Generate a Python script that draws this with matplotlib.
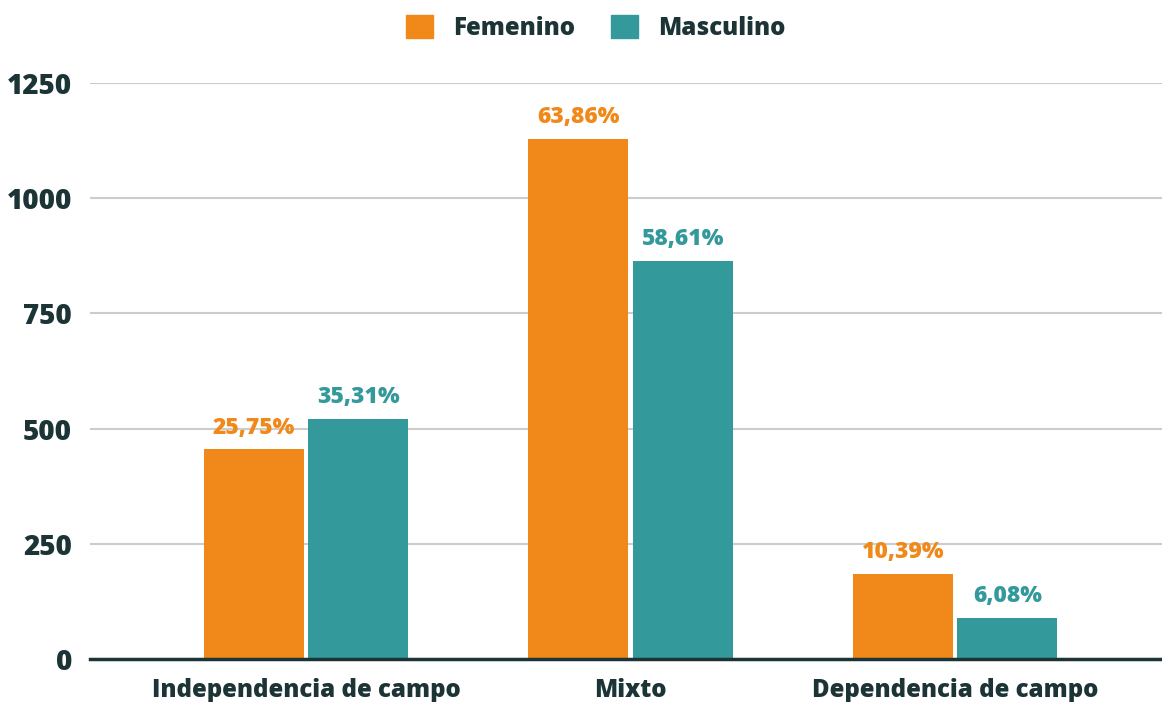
import matplotlib
matplotlib.use("Agg")
import matplotlib.pyplot as plt
import numpy as np
from matplotlib.patches import Patch

categories = ["Independencia de campo", "Mixto", "Dependencia de campo"]
femenino = [455, 1129, 184]
masculino = [521, 864, 90]
fem_labels = ["25,75%", "63,86%", "10,39%"]
masc_labels = ["35,31%", "58,61%", "6,08%"]
yticks = [0, 250, 500, 750, 1000, 1250]

ORANGE = "#F0891A"
TEAL = "#34999B"
DARK = "#1C3436"
GRID = "#CCCCCC"

plt.rcParams['font.family'] = ['Open Sans', 'DejaVu Sans']
W = 800

fig = plt.figure(figsize=(11.62, 7.02), dpi=100)
ax = fig.add_axes([90/1162, 1 - 659/702, 1072/1162, 576/702])

x = np.arange(len(categories))
w = 0.308
off = 0.161
b1 = ax.bar(x - off, femenino, w, color=ORANGE, zorder=3)
b2 = ax.bar(x + off, masculino, w, color=TEAL, zorder=3)

for rect, lab in zip(b1, fem_labels):
    ax.annotate(lab, (rect.get_x() + rect.get_width()/2, rect.get_height()),
                xytext=(0, 7), textcoords="offset points", ha="center", va="bottom",
                color=ORANGE, fontsize=16.5, fontweight=W)
for rect, lab in zip(b2, masc_labels):
    ax.annotate(lab, (rect.get_x() + rect.get_width()/2, rect.get_height()),
                xytext=(0, 7), textcoords="offset points", ha="center", va="bottom",
                color=TEAL, fontsize=16.5, fontweight=W)

ax.set_xlim(-0.666, 2.638)
ax.set_ylim(0, 1250)
ax.set_yticks(yticks)
ax.set_yticklabels([str(v) for v in yticks], fontsize=20, fontweight=W, color=DARK)
ax.set_xticks(x)
ax.set_xticklabels(categories, fontsize=17.3, fontweight=W, color=DARK)
ax.tick_params(axis="y", length=0, pad=13)
ax.tick_params(axis="x", length=0, pad=14)
ax.yaxis.grid(True, color=GRID, linewidth=1.5, zorder=0)
ax.set_axisbelow(True)
for s in ["top", "right", "left"]:
    ax.spines[s].set_visible(False)
ax.spines["bottom"].set_color(DARK)
ax.spines["bottom"].set_linewidth(2.5)
ax.spines["bottom"].set_zorder(4)

handles = [Patch(color=ORANGE, label="Femenino"), Patch(color=TEAL, label="Masculino")]
leg = fig.legend(handles=handles, loc="center", bbox_to_anchor=(596/1162, 1 - 28/702),
                 ncol=2, frameon=False, handlelength=1.1, handleheight=1.1,
                 handletextpad=0.85, columnspacing=1.5,
                 prop={"size": 17.3, "weight": W})
for t in leg.get_texts():
    t.set_color(DARK)

fig.savefig("out.png", dpi=100)
